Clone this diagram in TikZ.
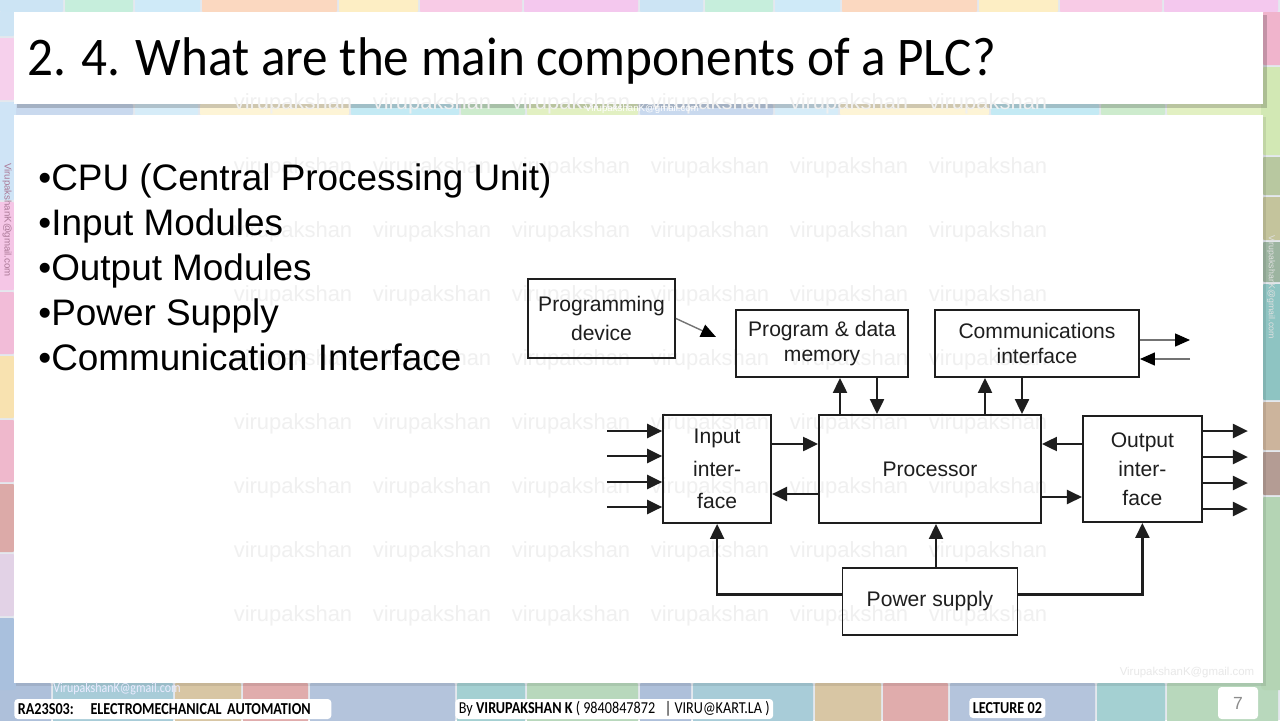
\documentclass[tikz,border=0pt]{standalone}
\usepackage{fontspec}
\setmainfont{Liberation Sans}
\newfontfamily\titlefont[FakeStretch=0.94]{Carlito}
\newfontfamily\footfont[FakeStretch=0.85]{Carlito}
\usepackage{tikz}
\usetikzlibrary{positioning,arrows.meta}
\definecolor{tilegap}{HTML}{E4E8EE}
\definecolor{mailpink}{HTML}{AA7896}
\definecolor{inkgray}{HTML}{1E1E1E}

\begin{document}
\begin{tikzpicture}[x=0.02cm,y=-0.02cm,
  blk/.style={draw=inkgray,line width=1.1pt,align=center,text=inkgray,
              inner sep=0pt,font=\fontsize{12}{14}\selectfont},
  arr/.style={-{Triangle[length=3mm,width=2.8mm]},line width=1.3pt,inkgray},
  thinarr/.style={-{Triangle[length=3mm,width=2.6mm,color=black]},line width=.8pt,black!55},
  wm/.style={text=black!6,font=\fontsize{12.5}{14}\selectfont},
  bullet/.style={anchor=base west,inner sep=0pt,font=\fontsize{21}{25}\selectfont},
  tag/.style={fill=white,rounded corners=2pt,inner xsep=2pt,inner ysep=1pt,minimum height=0.4cm,
              font=\footfont\fontsize{9.5}{11}\selectfont}]
\useasboundingbox (0,0) rectangle (1280,720);

% tiles behind the slide
\fill[tilegap] (0,0) rectangle (1280,720);
\foreach \p in {0,640}{
  \foreach \a/\b/\c in {0/63/CCE4F4,65/133/C6EEDC,135/200/CFEAF8,202/337/FBD8C0,
                        339/418/FDEEC4,420/522/F8CBE6,524/638/F4C8EE}
    {\definecolor{tc}{HTML}{\c}\fill[tc,rounded corners=2pt] (\p+\a,-10) rectangle (\p+\b,14);}
  \foreach \a/\b/\c in {0/133/C9D9EE,135/198/D6ECF8,200/349/FDF4D6,351/459/C4EAF4,
                        461/525/CDEBCD,527/638/E2F0C2}
    {\definecolor{tc}{HTML}{\c}\fill[tc,rounded corners=2pt] (\p+\a,102) rectangle (\p+\b,117);}
  \foreach \a/\b/\c in {0/51/AEC0DA,53/173/A8CCD8,175/241/D8C6A4,243/308/E0ACAC,
                        310/455/B4C4DC,457/525/A4D0D2,527/638/B8D8BC}
    {\definecolor{tc}{HTML}{\c}\fill[tc,rounded corners=2pt] (\p+\a,681) rectangle (\p+\b,730);}
}
\foreach \a/\b/\c in {12/36/CDE4F4,38/100/F6D0EC,102/200/CFE4F6,202/290/F5C6E6,292/354/F2BCD8,
                      356/418/F8E2B0,420/482/EFB8CC,484/552/DCAAA8,554/616/E2D2E6,618/690/A9C0DD}
  {\definecolor{tc}{HTML}{\c}\fill[tc,rounded corners=2pt] (-10,\a) rectangle (16,\b);}
\foreach \a/\b/\c in {12/65/F0B4CC,67/155/D2E8B4,157/195/B8C8A0,197/240/C4C49C,242/282/9CB4A0,
                      284/400/8EC4C2,402/450/CCB49C,452/495/B49C94,497/690/B4D4B4}
  {\definecolor{tc}{HTML}{\c}\fill[tc,rounded corners=2pt] (1261,\a) rectangle (1290,\b);}

% title bar and content panel
\fill[black,opacity=.18] (17,15) rectangle (1267,108);
\fill[white] (14,12) rectangle (1263,104);
\fill[black,opacity=.08] (16,117) rectangle (1266,686);
\fill[white] (14,115) rectangle (1263,683);

% watermark
\foreach \r in {0,...,8}
  \foreach \c in {0,...,5}
    \node[wm] at (293+139*\c,104+64*\r) {virupakshan};
\node[font=\fontsize{5.5}{6}\selectfont,text=mailpink,rotate=-90] (mailL) at (7,220) {VirupakshanK@gmail.com};
\node[font=\fontsize{5}{6}\selectfont,text=white!88!black,rotate=-90] (mailR) at (1271,287) {VirupakshanK@gmail.com};
\node[font=\fontsize{5.5}{6}\selectfont,text=white] (mailT) at (642,109) {VirupakshanK@gmail.com};
\node[font=\footfont\fontsize{8}{9}\selectfont,text=white!92!blue] (mailB) at (117,689) {VirupakshanK@gmail.com};
\node[font=\fontsize{6.5}{8}\selectfont,text=black!9] (mailC) at (1187,673) {VirupakshanK@gmail.com};

% title and bullets
\node[anchor=base west,inner sep=0pt,font=\titlefont\fontsize{31}{36}\selectfont] (ttl) at (27,75)
  {2. 4. What are the main components of a PLC?};
\foreach \t [count=\i from 0] in {CPU (Central Processing Unit),Input Modules,Output Modules,Power Supply,Communication Interface}
  \node[bullet] (b\i) at (38,190+45*\i) {•\t};

% PLC block diagram
\node[blk,minimum width=4.44cm,minimum height=2.16cm] (proc) at (930,469) {Processor};
\node[blk,minimum width=2.16cm,minimum height=2.16cm,font=\fontsize{12}{18.5}\selectfont,
      left=0.92cm of proc] (inp) {Input\\inter-\\face};
\node[blk,minimum width=2.38cm,minimum height=2.12cm,font=\fontsize{12}{16.5}\selectfont,
      right=0.8cm of proc] (outp) {Output\\inter-\\face};
\node[blk,minimum width=3.5cm,minimum height=1.34cm,below=0.86cm of proc] (psu) {Power supply};
\node[blk,minimum width=3.44cm,minimum height=1.34cm] (mem) at (822,343.5) {Program \& data\\memory};
\node[blk,minimum width=4.08cm,minimum height=1.34cm] (comm) at (1037,343.5) {Communications\\interface};
\node[blk,minimum width=2.94cm,minimum height=1.58cm,font=\fontsize{12}{16}\selectfont] (prog) at (601.5,318.5) {Programming\\device};

\coordinate (pd) at (716,337);
\draw[thinarr] (prog.east) -- (pd);
\draw[arr] (proc.north) ++(-90,0) coordinate (m1) -- (m1 |- mem.south);
\draw[arr] (mem.south) ++(55,0) coordinate (m2) -- (m2 |- proc.north);
\draw[arr] (proc.north) ++(55,0) coordinate (c1) -- (c1 |- comm.south);
\draw[arr] (comm.south) ++(-15,0) coordinate (c2) -- (c2 |- proc.north);
\coordinate (cout) at (1190,340);
\coordinate (cin) at (1190,359);
\draw[thinarr] (comm.east |- cout) -- (cout);
\draw[thinarr] (cin) -- (cin -| comm.east);
\draw[arr] (inp.east) ++(0,-25) coordinate (i1) -- (i1 -| proc.west);
\draw[arr] (proc.west) ++(0,25) coordinate (i2) -- (i2 -| inp.east);
\draw[arr] (outp.west) ++(0,-25) coordinate (o1) -- (o1 -| proc.east);
\draw[arr] (proc.east) ++(0,28) coordinate (o2) -- (o2 -| outp.west);
\foreach \dy in {-38,-13,13,38}
  \draw[arr] (inp.west) ++(-55,\dy) coordinate (q) -- (q -| inp.west);
\foreach \dy in {-38,-12,14,40}
  \draw[arr] (outp.east) ++(0,\dy) coordinate (q) -- ++(45,0);
\draw[arr] (psu.west) ++(0,-7) coordinate (p1) -- (p1 -| inp.south) -- (inp.south);
\draw[arr] (psu.north) ++(6,0) coordinate (p2) -- (p2 |- proc.south);
\draw[arr] (psu.east) ++(0,-7) coordinate (p3) -- (p3 -| outp.south) -- (outp.south);

% footer
\node[tag,anchor=west,text width=6.2cm] (crs) at (14,709) {\bfseries RA23S03:\quad ELECTROMECHANICAL AUTOMATION};
\node[tag,anchor=west] (by) at (455,709) {By \textbf{VIRUPAKSHAN K} ( 9840847872 \ \ | VIRU@KART.LA )};
\node[tag,anchor=west] (lec) at (969,708) {\bfseries LECTURE 02};
\node[tag,minimum width=0.8cm,minimum height=0.64cm,text=black!45,font=\fontsize{10}{12}\selectfont] (pg) at (1238,703) {7};
\end{tikzpicture}
\end{document}
